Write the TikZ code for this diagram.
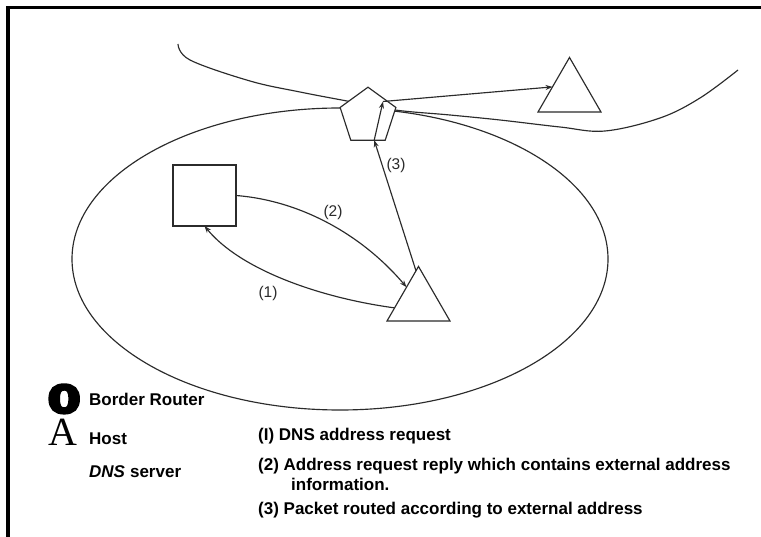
\documentclass[tikz,border=0pt]{standalone}
\usepackage{fontspec}
\setmainfont{Liberation Sans}
\newfontfamily\keyserif[BoldFeatures={FakeBold=14}]{Liberation Serif}
\usetikzlibrary{arrows.meta,shapes.geometric,calc}
\definecolor{ink}{gray}{0.17}
\begin{document}
\begin{tikzpicture}[x=1pt,y=-1pt,
  ln/.style={draw=ink, line width=1.15pt},
  arr/.style={ln, -{Stealth[length=7pt,width=5pt]}},
  shp/.style={ln, fill=white, inner sep=0pt, outer sep=0pt},
  tri/.style={shp, regular polygon, regular polygon sides=3, minimum size=72.7pt},
  lbl/.style={font=\fontsize{15.5}{18}\selectfont, text=ink, inner sep=1pt},
  key/.style={font=\fontsize{17}{20}\selectfont\bfseries, anchor=base west, inner sep=0pt},
]
\useasboundingbox (0,0) rectangle (761,537);
\fill[white] (0,0) rectangle (761,537);

% frame
\draw[line width=3.2pt] (761,7.5) -- (8,7.5) -- (8,537);

% internal network and the outside boundary
\draw[ln] (340,259) ellipse [x radius=268, y radius=151];
\draw[ln] plot[smooth, tension=0.6] coordinates {(178,44) (190,60) (250,81) (300,92) (347,101) (395,110) (450,115) (500,120) (560,127) (605,131) (660,118) (700,98) (738,70)};

% devices
\node[shp, regular polygon, regular polygon sides=5, minimum size=58.6pt] (br) at (368,116.5) {};
\node[tri] (host) at (418.5,302.8) {};
\node[tri] (far) at (569.5,93.8) {};
\node[shp, minimum width=63pt, minimum height=61pt] (dns) at (204.5,195.5) {};

% connector end points
\coordinate (q1) at ($(host.corner 1)!0.76!(host.corner 2)$);
\coordinate (q2) at ($(host.corner 1)!0.38!(host.corner 2)$);
\coordinate (q3) at ($(host.corner 1)!0.08!(host.corner 2)$);
\coordinate (entry) at ($(br.corner 3)!0.68!(br.corner 4)$);
\coordinate (relay) at ([shift={(15,-15)}]br.center);
\coordinate (hit) at ($(far.corner 1)!0.54!(far.corner 2)$);

% message flow
\draw[arr] (q1) .. controls +(-74,-10) and +(36,44) .. (dns.south);
\draw[arr] (dns.east) .. controls +(64,5) and +(-45,-53) .. (q2);
\draw[arr] (q3) -- (entry);
\draw[arr] (entry) -- (relay);
\draw[arr] (relay) -- (hit);

\node[lbl] (l1) at (268,293) {(1)};
\node[lbl] (l2) at (333,212) {(2)};
\node[lbl] (l3) at (396,165) {(3)};

% legend
\node[anchor=base west, inner sep=0pt, font=\keyserif\bfseries\fontsize{38.5}{38.5}\selectfont] (kO) at (49,411.5) {O};
\node[anchor=base west, inner sep=0pt, font=\keyserif\fontsize{40}{40}\selectfont] (kA) at (48,445.5) {A};
\node[key] (kbr) at (89,406) {Border Router};
\node[key] (kh) at (89,445) {Host};
\node[key] (kd) at (89,478) {{\itshape DNS}\hspace{5pt}server};

\node[key] (n1) at (258,441) {(I) DNS address request};
\node[key] (n2) at (258,470) {(2) Address request reply which contains external address};
\node[key] (n2b) at (291,490) {information.};
\node[key] (n3) at (258,514) {(3) Packet routed according to external address};
\end{tikzpicture}
\end{document}
